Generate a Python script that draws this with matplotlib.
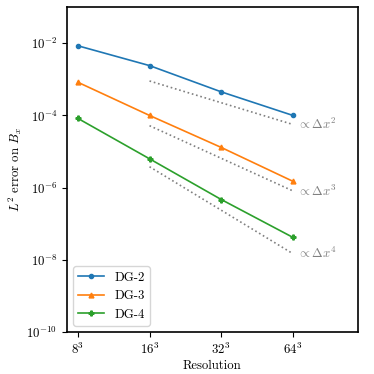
import matplotlib
matplotlib.use("Agg")
import matplotlib.pyplot as plt
import numpy as np

plt.rcParams['font.family'] = 'cmr10'
plt.rcParams['mathtext.fontset'] = 'cm'
plt.rcParams['axes.unicode_minus'] = False
plt.rcParams['axes.formatter.use_mathtext'] = True
plt.rcParams['font.size'] = 9.2

resolution = [8, 16, 32, 64]
res_labels = [r"$8^3$", r"$16^3$", r"$32^3$", r"$64^3$"]
dg2 = [8.5e-3, 2.4e-3, 4.5e-4, 1.0e-4]
dg3 = [8.3e-4, 1.0e-4, 1.3e-5, 1.5e-6]
dg4 = [8.3e-5, 6.3e-6, 4.7e-7, 4.2e-8]

ref_x = [16, 64]
ref2_start = 9.0e-4
ref3_start = 5.2e-5
ref4_start = 3.8e-6

fig = plt.figure(figsize=(3.74, 3.74), dpi=100)
ax = fig.add_axes([0.179, 0.112, 0.778, 0.869])

ax.plot(resolution, dg2, '-o', color='#1f77b4', lw=1.2, ms=3, label='DG-2')
ax.plot(resolution, dg3, '-^', color='#ff7f0e', lw=1.2, ms=3.5, label='DG-3')
ax.plot(resolution, dg4, '-P', color='#2ca02c', lw=1.2, ms=3.5, label='DG-4')

for start, p, lab in [(ref2_start, 2, r"$\propto \Delta x^2$"),
                      (ref3_start, 3, r"$\propto \Delta x^3$"),
                      (ref4_start, 4, r"$\propto \Delta x^4$")]:
    xs = np.array(ref_x, dtype=float)
    ys = start * (xs / xs[0]) ** (-p)
    ax.plot(xs, ys, ':', color='gray', lw=1.2)
    ax.annotate(lab, (xs[-1], ys[-1]), xytext=(3, 0), textcoords='offset points',
                va='center', ha='left', color='gray')

ax.set_xscale('log', base=2)
ax.set_yscale('log')
ax.set_xlim(7.2, 120)
ax.set_ylim(1e-10, 1e-1)
ax.set_xticks(resolution)
ax.set_xticklabels(res_labels)
ax.xaxis.set_minor_locator(matplotlib.ticker.NullLocator())
ax.set_yticks([1e-10, 1e-8, 1e-6, 1e-4, 1e-2])
ax.yaxis.set_minor_locator(matplotlib.ticker.NullLocator())
ax.set_xlabel('Resolution', labelpad=2)
ax.set_ylabel(r"$L^2$ error on $B_x$", labelpad=2)
for s in ax.spines.values():
    s.set_linewidth(1.2)
ax.legend(loc='lower left')

fig.savefig('out.png', dpi=100)
